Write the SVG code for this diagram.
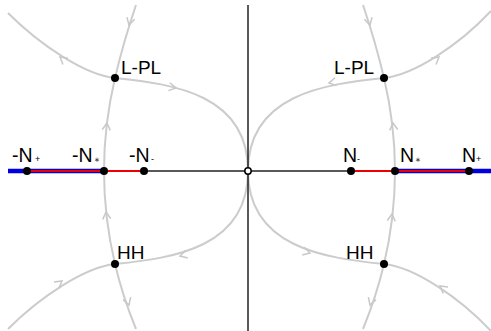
<svg xmlns="http://www.w3.org/2000/svg" xmlns:xlink="http://www.w3.org/1999/xlink" width="491" height="331" viewBox="0 0 491 331">
<style>
.flow{fill:none;stroke:#cccccc;stroke-width:2}
.axis{fill:none;stroke:#222222;stroke-width:1.5}
.lbl{font-family:"Liberation Sans",Arial,sans-serif;font-size:19px;fill:#000}
.nl{font-family:"Liberation Sans",Arial,sans-serif;font-size:19.5px;fill:#000}
.sub{font-family:"Liberation Sans",Arial,sans-serif;font-size:9px;fill:#000}
.star{font-family:"DejaVu Sans",sans-serif;font-size:7px;fill:#333}
.dot{fill:#000}
</style>
<defs>
<path id="chev" d="M-7,-4 L0,0 L-7,4" fill="none" stroke="#c8c8c8" stroke-width="1.5"/>
</defs>
<rect width="491" height="331" fill="#fff"/>
<g id="connectors">
<path class="flow" d="M136,5 Q123.6,41.5 115,78 Q104,124.5 104,171 Q104,217.5 115,264 Q122.5,296 136,329"/>
<path class="flow" d="M363,5 Q375.4,41.5 384,78 Q395,124.5 395,171 Q395,217.5 384,264 Q376.5,296 363,329"/>
<path class="flow" d="M8,13 C40,45 85,75 115,78 C175,84 248,95 248,171"/>
<path class="flow" d="M8,329 C40,297 85,267 115,264 C175,258 248,247 248,171"/>
<path class="flow" d="M491,11 C459,45 414,75 384,78 C324,84 248,95 248,171"/>
<path class="flow" d="M491,331 C459,297 414,267 384,264 C324,258 248,247 248,171"/>
<use xlink:href="#chev" transform="translate(129,25) rotate(105)"/>
<use xlink:href="#chev" transform="translate(107,123) rotate(-84)"/>
<use xlink:href="#chev" transform="translate(106,212) rotate(-96)"/>
<use xlink:href="#chev" transform="translate(129,305) rotate(72)"/>
<use xlink:href="#chev" transform="translate(60,57) rotate(-141)"/>
<use xlink:href="#chev" transform="translate(176,88) rotate(11)"/>
<use xlink:href="#chev" transform="translate(62,281) rotate(-37)"/>
<use xlink:href="#chev" transform="translate(180,256) rotate(165)"/>
<use xlink:href="#chev" transform="translate(370,25) rotate(75)"/>
<use xlink:href="#chev" transform="translate(393,123) rotate(-96)"/>
<use xlink:href="#chev" transform="translate(392,214) rotate(-84)"/>
<use xlink:href="#chev" transform="translate(370,305) rotate(108)"/>
<use xlink:href="#chev" transform="translate(439,57) rotate(-39)"/>
<use xlink:href="#chev" transform="translate(329,83) rotate(169)"/>
<use xlink:href="#chev" transform="translate(310,253) rotate(15)"/>
<use xlink:href="#chev" transform="translate(440,286) rotate(-143)"/>
<line class="axis" x1="248" y1="5" x2="248" y2="331"/>
<line class="axis" x1="8" y1="171" x2="491" y2="171"/>
<line x1="8" y1="171" x2="104" y2="171" stroke="#0000dd" stroke-width="4.5"/>
<line x1="395" y1="171" x2="491" y2="171" stroke="#0000dd" stroke-width="4.5"/>
<line x1="27" y1="171" x2="144" y2="171" stroke="#ee0000" stroke-width="2"/>
<line x1="351" y1="171" x2="469" y2="171" stroke="#ee0000" stroke-width="2"/>
</g>
<g id="center"><circle cx="248" cy="171" r="3.2" fill="#fff" stroke="#000" stroke-width="1.5"/></g>
<g id="nNplus"><circle class="dot" cx="27" cy="171" r="4"/><text class="nl" x="12" y="162">-N</text><text class="sub" x="35" y="162">+</text></g>
<g id="nNstar"><circle class="dot" cx="104" cy="171" r="4"/><text class="nl" x="72" y="162">-N</text><text class="star" x="94" y="162">∗</text></g>
<g id="nNminus"><circle class="dot" cx="144" cy="171" r="4"/><text class="nl" x="129" y="162">-N</text><text class="sub" x="151" y="162">-</text></g>
<g id="Nminus"><circle class="dot" cx="351" cy="171" r="4"/><text class="nl" x="343" y="162">N</text><text class="sub" x="357" y="162">-</text></g>
<g id="Nstar"><circle class="dot" cx="395" cy="171" r="4"/><text class="nl" x="400" y="162">N</text><text class="star" x="415" y="162">∗</text></g>
<g id="Nplus"><circle class="dot" cx="469" cy="171" r="4"/><text class="nl" x="462" y="162">N</text><text class="sub" x="476" y="162">+</text></g>
<g id="LPL_left"><circle class="dot" cx="115" cy="78" r="4"/><text class="lbl" x="121" y="74">L-PL</text></g>
<g id="HH_left"><circle class="dot" cx="115" cy="264" r="4"/><text class="lbl" x="117" y="259">HH</text></g>
<g id="LPL_right"><circle class="dot" cx="384" cy="78" r="4"/><text class="lbl" x="334" y="74">L-PL</text></g>
<g id="HH_right"><circle class="dot" cx="384" cy="264" r="4"/><text class="lbl" x="346" y="259">HH</text></g>
</svg>
